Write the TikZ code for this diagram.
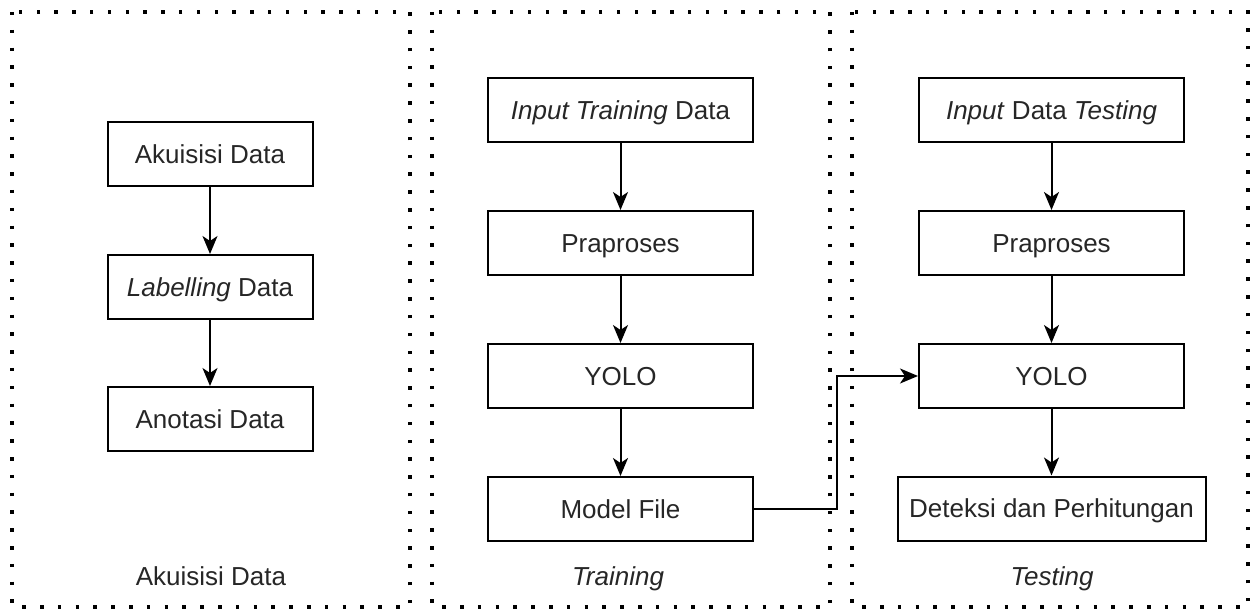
\documentclass[tikz,border=0pt]{standalone}
\usepackage{fontspec}
\setmainfont{Liberation Sans}
\usetikzlibrary{arrows.meta}
\begin{document}
\begin{tikzpicture}[x=1pt,y=-1pt,
  panel/.style={line width=3.5pt, line cap=butt, dash pattern=on 3.5pt off 14.3pt},
  txt/.style={font=\fontsize{26}{30}\selectfont, text=black!85, text height=18.6pt, text depth=0pt, inner sep=0pt},
  box/.style={txt, draw, line width=2pt, minimum height=64pt},
  flow/.style={-{Stealth[length=18pt,width=15pt,inset=5pt]}, line width=2pt}]
\useasboundingbox (0,0) rectangle (1250,609);

% three dotted stage frames
\draw[panel] (12,12) rectangle (410,607);
\draw[panel] (432,12) rectangle (830,607);
\draw[panel] (852,12) rectangle (1248,607);

% stage 1: data acquisition
\node[box, minimum width=205pt] (aku) at (210,154.5) {Akuisisi Data};
\node[box, minimum width=205pt] (lab) at (210,287) {\textit{Labelling} Data};
\node[box, minimum width=205pt] (ano) at (210,419) {Anotasi Data};
\node[txt] (cap1) at (211,576) {Akuisisi Data};

% stage 2: training
\node[box, minimum width=265pt] (intr) at (620.5,110) {\textit{Input Training} Data};
\node[box, minimum width=265pt] (pra2) at (620.5,243) {Praproses};
\node[box, minimum width=265pt] (yolo2) at (620.5,376) {YOLO};
\node[box, minimum width=265pt] (mf) at (620.5,509) {Model File};
\node[txt] (cap2) at (618,576) {\textit{Training}};

% stage 3: testing
\node[box, minimum width=265pt] (inte) at (1051.5,110) {\textit{Input} Data \textit{Testing}};
\node[box, minimum width=265pt] (pra3) at (1051.5,243) {Praproses};
\node[box, minimum width=265pt] (yolo3) at (1051.5,376) {YOLO};
\node[box, minimum width=308pt] (det) at (1051.5,508.5) {Deteksi dan Perhitungan};
\node[txt] (cap3) at (1052,576) {\textit{Testing}};

% flow arrows
\draw[flow] (aku) -- (lab);
\draw[flow] (lab) -- (ano);
\draw[flow] (intr) -- (pra2);
\draw[flow] (pra2) -- (yolo2);
\draw[flow] (yolo2) -- (mf);
\draw[flow] (inte) -- (pra3);
\draw[flow] (pra3) -- (yolo3);
\draw[flow] (yolo3) -- (det);

% trained model feeds the testing detector
\coordinate (bend) at (837,509);
\draw[flow] (mf.east) -- (bend) |- (yolo3.west);
\end{tikzpicture}
\end{document}
